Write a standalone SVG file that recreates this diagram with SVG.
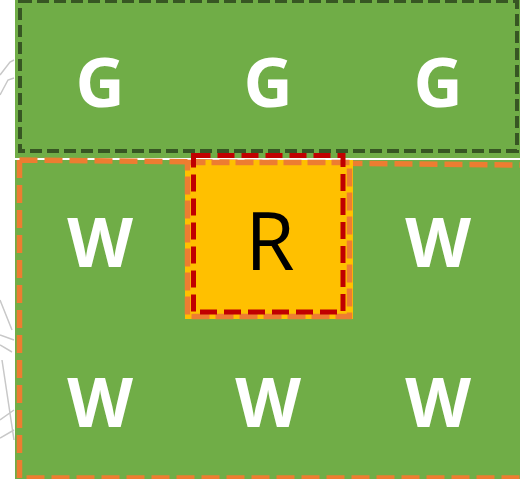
<svg xmlns="http://www.w3.org/2000/svg" width="520" height="479" viewBox="0 0 520 479">
  <style>
    .lbl { font-family: "Open Sans", "Liberation Sans", sans-serif; font-weight: bold; fill: #FFFFFF; text-anchor: middle; }
    .sketch { fill: none; stroke: #C8C8C8; stroke-width: 1.5; }
  </style>
  <rect x="0" y="0" width="520" height="479" fill="#FFFFFF"/>
  <g id="sketch">
    <path class="sketch" d="M0,75 L10,62 L14,60"/>
    <path class="sketch" d="M0,95 L8,80 L14,78"/>
    <path class="sketch" d="M0,300 L12,330 M0,335 L14,340 M0,345 L12,352 M2,360 L14,440 M0,420 L14,410 M0,438 L14,430"/>
  </g>
  <rect id="field" x="15" y="0" width="505" height="479" fill="#70AD47"/>
  <g id="green-zone">
    <rect x="20" y="1" width="497" height="150" fill="none" stroke="#375623" stroke-width="4" stroke-dasharray="12 5"/>
  </g>
  <line id="divider" x1="15" y1="159" x2="520" y2="159" stroke="#FFFFFF" stroke-width="2"/>
  <g id="white-zone">
    <path d="M19.5,160 L520,165 M19.5,160 L19.5,478 L520,478" fill="none" stroke="#ED7D31" stroke-width="5.5" stroke-dasharray="18 7"/>
  </g>
  <g id="red-cell">
    <rect x="185" y="160" width="168" height="159" fill="#FFC000"/>
    <rect x="187.5" y="162.5" width="162" height="154" fill="none" stroke="#ED7D31" stroke-width="5.5" stroke-dasharray="18 6"/>
    <rect x="193.5" y="155.5" width="149.5" height="156.5" fill="none" stroke="#C00000" stroke-width="5" stroke-dasharray="17 7"/>
    <text x="270" y="270" font-family="Open Sans, Liberation Sans, sans-serif" font-size="80" fill="#000000" text-anchor="middle">R</text>
  </g>
  <g id="labels">
    <text class="lbl" x="100" y="107" font-size="68">G</text>
    <text class="lbl" x="268" y="107" font-size="68">G</text>
    <text class="lbl" x="438" y="107" font-size="68">G</text>
    <text class="lbl" x="100" y="267" font-size="68">W</text>
    <text class="lbl" x="438" y="267" font-size="68">W</text>
    <text class="lbl" x="100" y="427" font-size="68">W</text>
    <text class="lbl" x="268" y="427" font-size="68">W</text>
    <text class="lbl" x="438" y="427" font-size="68">W</text>
  </g>
</svg>
